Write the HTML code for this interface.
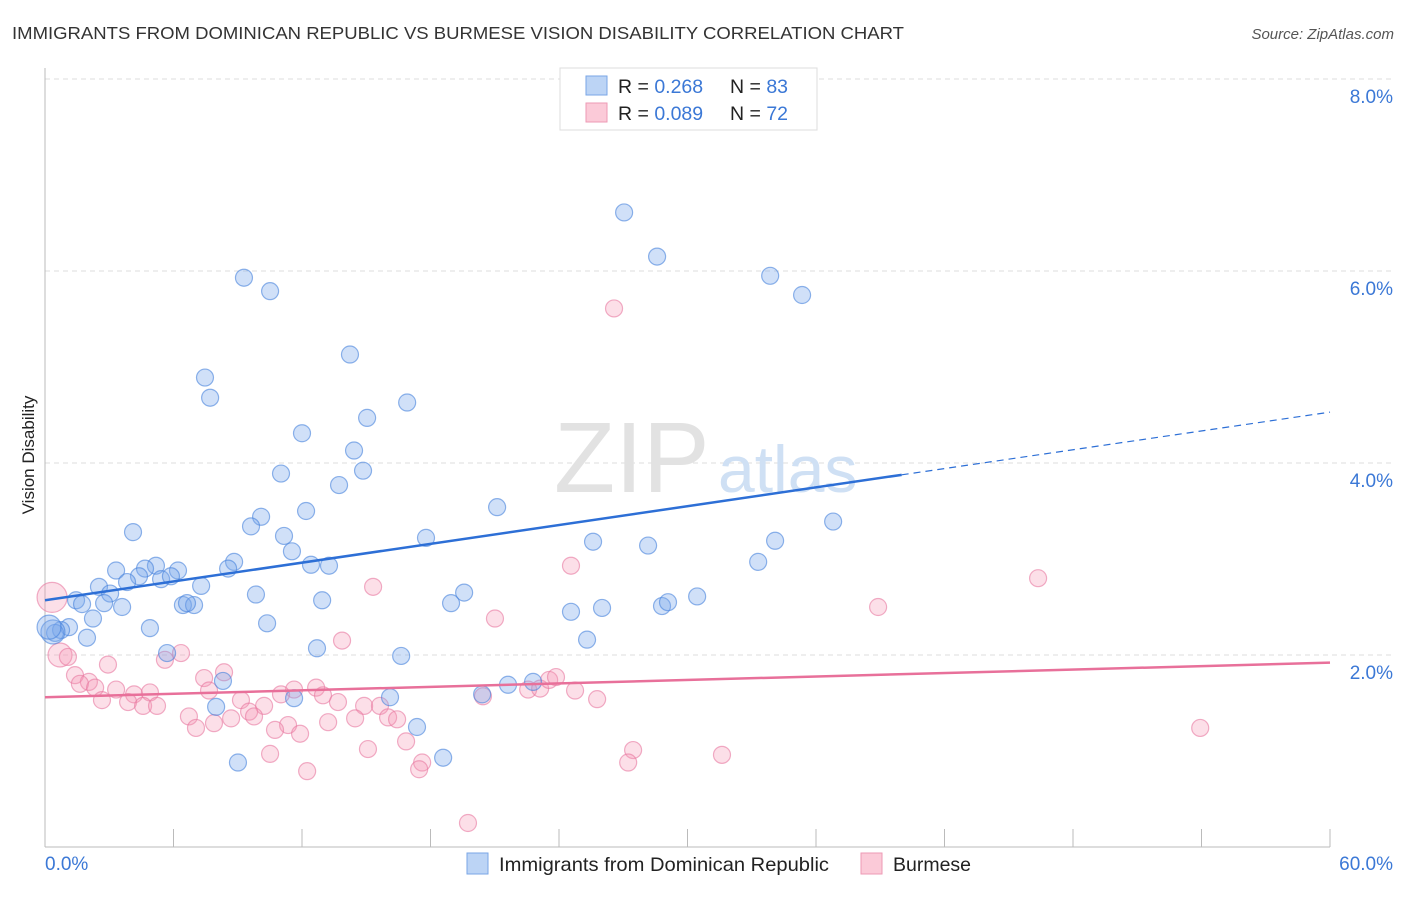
<!DOCTYPE html>
<html><head><meta charset="utf-8"><style>
body{margin:0;background:#fff;font-family:"Liberation Sans",sans-serif}
svg text{font-family:"Liberation Sans",sans-serif}
</style></head><body>
<svg id="chart" width="1406" height="892">
<text x="12" y="39" font-size="17.5" fill="#333" textLength="892" lengthAdjust="spacingAndGlyphs">IMMIGRANTS FROM DOMINICAN REPUBLIC VS BURMESE VISION DISABILITY CORRELATION CHART</text>
<text x="1394" y="39" font-size="15" font-style="italic" fill="#555" text-anchor="end">Source: ZipAtlas.com</text>
<g id="grid"></g>
<g>
<text x="554" y="492" font-size="100" font-family="Liberation Serif" fill="#e2e2e2">ZIP</text>
<text x="718" y="492" font-size="66" fill="#cfe0f4">atlas</text>
</g>
<text transform="translate(34,455) rotate(-90)" font-size="17" fill="#222" text-anchor="middle">Vision Disability</text>
<g id="marks"></g>
<g id="lines"></g>
<g>
<rect x="560" y="68" width="257" height="62" fill="#fff" stroke="#ddd"/>
<rect x="586" y="76" width="21" height="19" fill="#bcd4f5" stroke="#7aa6e6"/>
<rect x="586" y="103" width="21" height="19" fill="#fbcad8" stroke="#ee9ab5"/>
<text x="618" y="93" font-size="19.5" fill="#222">R = <tspan fill="#3b78d6"> 0.268</tspan><tspan x="730">N = </tspan><tspan fill="#3b78d6">83</tspan></text>
<text x="618" y="120" font-size="19.5" fill="#222">R = <tspan fill="#3b78d6">0.089</tspan><tspan x="730">N = </tspan><tspan fill="#3b78d6">72</tspan></text>
</g>
<g>
<rect x="467" y="853" width="21" height="21" fill="#bcd4f5" stroke="#7aa6e6"/>
<text x="499" y="871" font-size="19.5" fill="#222" textLength="330" lengthAdjust="spacingAndGlyphs">Immigrants from Dominican Republic</text>
<rect x="861" y="853" width="21" height="21" fill="#fbcad8" stroke="#ee9ab5"/>
<text x="893" y="871" font-size="19.5" fill="#222">Burmese</text>
</g>
</svg>
<script>
const yTicks=[2,4,6,8];
const xTickLabels=["0.0%","60.0%"];
const blueX=[9.29,10.51,27.04,28.58,33.86,35.35,14.24,7.47,7.71,16.91,15.04,12.00,14.43,11.02,14.85,13.73,21.11,12.19,10.09,4.11,9.62,11.16,17.79,25.59,28.16,34.09,36.80,11.53,8.83,33.30,5.18,3.32,4.67,6.21,12.42,13.26,8.55,4.39,5.42,5.88,3.83,2.52,7.29,3.04,9.85,19.57,30.45,1.45,1.73,2.76,3.60,6.44,6.96,6.63,12.94,18.96,24.56,26.01,28.81,29.09,2.24,10.37,4.90,1.12,0.75,0.47,1.96,25.31,12.70,5.70,16.63,8.31,22.79,21.62,16.11,11.63,20.41,7.99,17.37,18.59,9.01,0.37,0.19];
const blueY=[5.93,5.79,6.61,6.15,5.95,5.75,5.13,4.89,4.68,4.63,4.47,4.31,4.13,3.89,3.92,3.77,3.54,3.50,3.44,3.28,3.34,3.24,3.22,3.18,3.14,3.19,3.39,3.08,2.97,2.97,2.93,2.88,2.90,2.88,2.94,2.93,2.90,2.82,2.79,2.82,2.76,2.71,2.72,2.64,2.63,2.65,2.61,2.57,2.53,2.54,2.50,2.52,2.52,2.54,2.57,2.54,2.45,2.49,2.51,2.55,2.38,2.33,2.28,2.29,2.26,2.23,2.18,2.16,2.07,2.02,1.99,1.73,1.72,1.69,1.56,1.55,1.59,1.46,1.25,0.93,0.88,2.24,2.29];
const pinkX=[26.57,15.32,24.56,46.37,38.90,21.01,13.87,0.70,1.07,2.94,5.60,6.35,8.36,1.40,7.43,2.05,1.63,2.34,3.32,4.16,4.90,7.66,11.63,12.66,12.98,13.68,11.02,2.66,3.88,4.58,5.23,9.15,10.23,14.90,15.64,9.53,8.69,9.76,6.72,7.89,7.05,11.35,10.74,11.91,13.22,14.48,16.02,16.44,20.45,22.56,23.12,23.54,23.86,24.75,25.78,16.86,15.08,10.51,27.46,31.61,53.94,17.61,17.47,27.23,12.24,19.75,0.33];
const pinkY=[5.61,2.71,2.93,2.80,2.50,2.38,2.15,2.00,1.98,1.90,1.95,2.02,1.82,1.79,1.76,1.72,1.70,1.66,1.64,1.59,1.61,1.63,1.64,1.66,1.58,1.51,1.59,1.53,1.51,1.47,1.47,1.53,1.47,1.47,1.47,1.41,1.34,1.36,1.36,1.29,1.24,1.27,1.22,1.18,1.30,1.34,1.35,1.33,1.57,1.64,1.65,1.74,1.77,1.63,1.54,1.10,1.02,0.97,1.01,0.96,1.24,0.88,0.81,0.88,0.79,0.25,2.60];
const blueTrend=[2.57,4.53];
const pinkTrend=[1.56,1.92];
const X=v=>45+v/60*1285;
const Y=v=>847-v*96;
const NS="http://www.w3.org/2000/svg";
function mk(tag,attrs,parent){const e=document.createElementNS(NS,tag);for(const k in attrs)e.setAttribute(k,attrs[k]);parent.appendChild(e);return e;}
const grid=document.getElementById('grid');
yTicks.forEach(t=>{
 const l=mk('line',{x1:45,x2:1393,y1:Y(t),y2:Y(t),stroke:'#ddd','stroke-dasharray':'5,4'},grid);
 
 
 const tx=mk('text',{x:1393,y:Y(t)+24,'font-size':19,fill:'#3b78d6','text-anchor':'end'},grid);
 tx.textContent=t.toFixed(1)+'%';
 
 
});
mk('line',{x1:45,x2:45,y1:68,y2:847,stroke:'#bbb'},grid);
mk('line',{x1:45,x2:1330,y1:847,y2:847,stroke:'#bbb'},grid);
for(let i=1;i<=10;i++){const t=mk('line',{x1:X(i*6),x2:X(i*6),y1:829,y2:847,stroke:'#bbb'},grid);
 
 }
const xl0=mk('text',{x:45,y:870,'font-size':19,fill:'#3b78d6'},grid);xl0.textContent=xTickLabels[0];


const xl1=mk('text',{x:1393,y:870,'font-size':19,fill:'#3b78d6','text-anchor':'end'},grid);xl1.textContent=xTickLabels[1];


const marks=document.getElementById('marks');
pinkX.forEach((v,i)=>{let r=8.5;if(i===pinkX.length-1)r=15;if(i===7)r=12;
 const c=mk('circle',{cx:X(v),cy:Y(pinkY[i]),r:r,fill:'rgba(245,150,180,0.3)',stroke:'rgba(232,120,160,0.6)','stroke-width':1.2},marks);
 
 });
blueX.forEach((v,i)=>{let r=8.5;if(i>=blueX.length-2)r=12;
 const c=mk('circle',{cx:X(v),cy:Y(blueY[i]),r:r,fill:'rgba(120,165,235,0.35)',stroke:'rgba(70,130,220,0.6)','stroke-width':1.2},marks);
 
 });
const lines=document.getElementById('lines');
const split=40;
const by=x=>blueTrend[0]+(blueTrend[1]-blueTrend[0])*x/60;
const bl=mk('line',{x1:X(0),y1:Y(by(0)),x2:X(split),y2:Y(by(split)),stroke:'#2d6fd6','stroke-width':2.5},lines);


const bd=mk('line',{x1:X(split),y1:Y(by(split)),x2:X(60),y2:Y(by(60)),stroke:'#2d6fd6','stroke-width':1.2,'stroke-dasharray':'7,5'},lines);


const pl=mk('line',{x1:X(0),y1:Y(pinkTrend[0]),x2:X(60),y2:Y(pinkTrend[1]),stroke:'#e8709a','stroke-width':2.5},lines);


</script>
</body></html>
